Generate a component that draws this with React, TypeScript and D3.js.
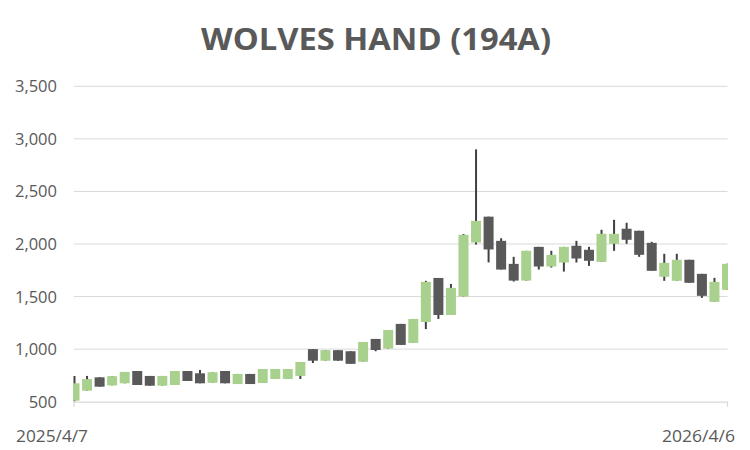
import React from "react";
import * as d3 from "d3";

const dates: string[] = [
  "2025-04-07","2025-04-14","2025-04-21","2025-04-28","2025-05-05","2025-05-12","2025-05-19","2025-05-26",
  "2025-06-02","2025-06-09","2025-06-16","2025-06-23","2025-06-30","2025-07-07","2025-07-14","2025-07-21",
  "2025-07-28","2025-08-04","2025-08-11","2025-08-18","2025-08-25","2025-09-01","2025-09-08","2025-09-15",
  "2025-09-22","2025-09-29","2025-10-06","2025-10-13","2025-10-20","2025-10-27","2025-11-03","2025-11-10",
  "2025-11-17","2025-11-24","2025-12-01","2025-12-08","2025-12-15","2025-12-22","2025-12-29","2026-01-05",
  "2026-01-12","2026-01-19","2026-01-26","2026-02-02","2026-02-09","2026-02-16","2026-02-23","2026-03-02",
  "2026-03-09","2026-03-16","2026-03-23","2026-03-30","2026-04-06",
];

const openValues: number[] = [
  510, 605, 732, 655, 675, 792, 745, 652, 659, 792, 770, 680, 792, 668, 764, 678, 716, 716, 745,
  1000, 890, 990, 980, 880, 1097, 1005, 1240, 1059, 1258, 1677, 1325, 1500, 2014, 2260, 2030, 1811,
  1652, 1973, 1786, 1824, 1983, 1945, 1830, 2002, 2145, 2126, 2011, 1688, 1650, 1850, 1716, 1450, 1564,
];
const highValues: number[] = [
  745, 745, 732, 743, 783, 792, 745, 745, 792, 792, 802, 780, 792, 764, 764, 811, 811, 811, 878,
  1000, 990, 990, 980, 1068, 1097, 1182, 1240, 1287, 1650, 1677, 1620, 2095, 2900, 2260, 2055, 1878,
  1935, 1973, 1935, 1973, 2030, 1973, 2135, 2230, 2202, 2126, 2021, 1907, 1907, 1850, 1716, 1678, 1811,
];
const lowValues: number[] = [
  505, 605, 643, 655, 675, 659, 652, 652, 659, 697, 675, 680, 675, 668, 668, 678, 716, 716, 716,
  868, 890, 890, 860, 880, 980, 1005, 1040, 1059, 1190, 1287, 1325, 1500, 1995, 1825, 1757, 1643,
  1652, 1757, 1776, 1738, 1824, 1792, 1830, 1935, 2002, 1878, 1745, 1650, 1650, 1631, 1488, 1450, 1564,
];
const closeValues: number[] = [
  675, 715, 643, 743, 783, 659, 652, 745, 792, 697, 675, 780, 675, 764, 668, 811, 811, 811, 878,
  890, 990, 890, 860, 1068, 992, 1182, 1040, 1287, 1640, 1325, 1583, 2088, 2220, 1948, 1757, 1652,
  1935, 1786, 1897, 1973, 1862, 1840, 2097, 2097, 2040, 1897, 1745, 1821, 1850, 1631, 1507, 1640, 1811,
];

const yTicks: number[] = [500, 1000, 1500, 2000, 2500, 3000, 3500];
const xLabels: string[] = ["2025/4/7", "2026/4/6"];
const title = "WOLVES HAND (194A)";

const W = 750;
const H = 450;
const UP = "#A9D18E";
const DOWN = "#595959";
const WICK = "#404040";
const TEXT = "#595959";
const GRID = "#D9D9D9";
const FONT = "'Open Sans', 'Liberation Sans', sans-serif";

export default function App() {
  const parse = d3.timeParse("%Y-%m-%d");
  const ds = dates.map((d) => parse(d) as Date);
  const x = d3
    .scaleTime()
    .domain([ds[0], ds[ds.length - 1]])
    .range([74.5, 727]);
  const y = d3.scaleLinear().domain([500, 3500]).range([401.7, 86.3]);
  const bodyW = 10;
  const plotLeft = 73;
  const plotRight = 728;

  return (
    <svg
      width={W}
      height={H}
      style={{ position: "absolute", left: 0, top: 0, background: "#fff" }}
      fontFamily={FONT}
    >
      <defs>
        <clipPath id="plot">
          <rect x={plotLeft} y={60} width={plotRight - plotLeft} height={343} />
        </clipPath>
      </defs>
      <rect x={0} y={0} width={W} height={H} fill="#fff" />
      <text
        x={376}
        y={50}
        textAnchor="middle"
        fontSize={31}
        fontWeight="bold"
        fill={TEXT}
        textLength={350}
        lengthAdjust="spacingAndGlyphs"
      >
        {title}
      </text>
      {yTicks.map((t) => (
        <g key={t}>
          {t !== 500 && (
            <line x1={74} x2={727.5} y1={y(t)} y2={y(t)} stroke={GRID} strokeWidth={1} />
          )}
          <text
            x={57}
            y={y(t) + 6}
            textAnchor="end"
            fontSize={16.5}
            fill={TEXT}
          >
            {d3.format(",")(t)}
          </text>
        </g>
      ))}
      <line x1={74} x2={727.5} y1={y(500) + 0.5} y2={y(500) + 0.5} stroke={GRID} strokeWidth={1.3} />
      <line x1={74} x2={74} y1={y(500)} y2={y(500) + 5} stroke={GRID} strokeWidth={1.3} />
      <line x1={727.5} x2={727.5} y1={y(500)} y2={y(500) + 5} stroke={GRID} strokeWidth={1.3} />
      <text x={16} y={441.5} fontSize={17} fill={TEXT} textLength={72} lengthAdjust="spacingAndGlyphs">
        {xLabels[0]}
      </text>
      <text x={662} y={441.5} fontSize={17} fill={TEXT} textLength={73} lengthAdjust="spacingAndGlyphs">
        {xLabels[1]}
      </text>
      <g clipPath="url(#plot)">
        {ds.map((d, i) => {
          const cx = x(d);
          return (
            <line
              key={"w" + i}
              x1={cx}
              x2={cx}
              y1={y(highValues[i])}
              y2={y(lowValues[i])}
              stroke={WICK}
              strokeWidth={2}
            />
          );
        })}
        {ds.map((d, i) => {
          const cx = x(d);
          const o = openValues[i];
          const c = closeValues[i];
          const top = y(Math.max(o, c));
          const bot = y(Math.min(o, c));
          return (
            <rect
              key={"b" + i}
              x={cx - bodyW / 2}
              y={top}
              width={bodyW}
              height={Math.max(1, bot - top)}
              fill={c >= o ? UP : DOWN}
            />
          );
        })}
      </g>
    </svg>
  );
}
